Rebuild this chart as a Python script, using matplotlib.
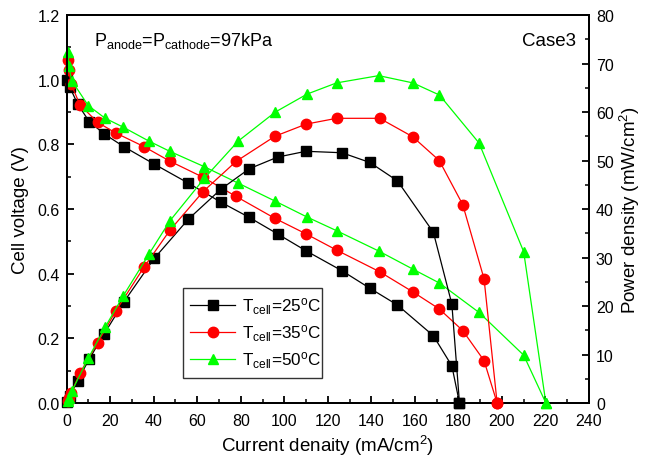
import matplotlib
matplotlib.use("Agg")
import matplotlib.pyplot as plt
from matplotlib.ticker import MultipleLocator

plt.rcParams['font.family'] = ['Liberation Sans', 'DejaVu Sans']
plt.rcParams['mathtext.fontset'] = 'custom'
plt.rcParams['mathtext.rm'] = 'Liberation Sans'
plt.rcParams['mathtext.it'] = 'Liberation Sans'

# Polarization data: current density (mA/cm2), cell voltage (V), power density (mW/cm2)
i_25 = [0.3, 1.5, 5.0, 10.4, 17.3, 26.2, 40.2, 55.9, 70.9, 83.9, 96.9, 109.9, 126.5, 139.3, 152.0, 168.5, 177.0, 180.5]
v_25 = [1.00, 0.976, 0.925, 0.870, 0.832, 0.793, 0.739, 0.680, 0.621, 0.574, 0.523, 0.471, 0.409, 0.355, 0.303, 0.208, 0.115, 0.0]
p_25 = [0.3, 1.5, 4.6, 9.1, 14.3, 20.8, 29.8, 37.9, 44.1, 48.3, 50.7, 51.9, 51.6, 49.6, 45.8, 35.2, 20.4, 0.0]

i_35 = [0.5, 1.0, 2.0, 6.1, 14.2, 22.6, 35.5, 47.4, 62.7, 77.8, 95.7, 110.0, 124.0, 143.8, 159.0, 171.2, 182.0, 191.8, 197.8]
v_35 = [1.06, 1.03, 0.987, 0.922, 0.868, 0.835, 0.793, 0.748, 0.698, 0.639, 0.571, 0.523, 0.473, 0.406, 0.344, 0.291, 0.224, 0.131, 0.0]
p_35 = [0.5, 1.0, 2.0, 6.2, 12.4, 19.0, 28.0, 35.6, 43.6, 49.8, 55.0, 57.5, 58.7, 58.7, 54.9, 50.0, 40.9, 25.6, 0.0]

i_50 = [0.5, 1.0, 2.3, 9.9, 17.6, 26.0, 37.8, 47.5, 63.2, 78.8, 95.9, 110.5, 124.0, 143.4, 159.1, 171.3, 189.5, 210.0, 220.2]
v_50 = [1.085, 1.043, 0.997, 0.920, 0.881, 0.853, 0.810, 0.778, 0.731, 0.680, 0.624, 0.575, 0.533, 0.470, 0.414, 0.371, 0.280, 0.148, 0.0]
p_50 = [0.5, 1.0, 2.4, 9.2, 15.6, 22.1, 30.7, 37.6, 46.3, 54.0, 60.0, 63.7, 66.0, 67.5, 66.0, 63.5, 53.6, 31.2, 0.0]

labels = [r'T$_{\rm cell}$=25$^{\rm o}$C', r'T$_{\rm cell}$=35$^{\rm o}$C', r'T$_{\rm cell}$=50$^{\rm o}$C']

fig = plt.figure(figsize=(6.45, 4.64), dpi=100)
ax = fig.add_axes([0.1034, 0.1293, 0.8097, 0.8362])
ax2 = ax.twinx()

styles = [
    dict(color='black', marker='s', ms=6.5),
    dict(color='#ff0000', marker='o', ms=7.5),
    dict(color='#00ff00', marker='^', ms=7.5),
]
series = [(i_25, v_25, p_25), (i_35, v_35, p_35), (i_50, v_50, p_50)]

handles = []
for (cur, volt, powr), st, lab in zip(series, styles, labels):
    h, = ax.plot(cur, volt, color=st['color'], marker=st['marker'], ms=st['ms'],
                 mfc=st['color'], mec=st['color'], lw=0.9, label=lab, clip_on=False, zorder=3)
    ax2.plot(cur, powr, color=st['color'], marker=st['marker'], ms=st['ms'],
             mfc=st['color'], mec=st['color'], lw=0.9, clip_on=False, zorder=3)
    handles.append(h)

ax.set_xlim(0, 240)
ax.set_ylim(0, 1.2)
ax2.set_ylim(0, 80)

ax.xaxis.set_major_locator(MultipleLocator(20))
ax.xaxis.set_minor_locator(MultipleLocator(10))
ax.yaxis.set_major_locator(MultipleLocator(0.2))
ax.yaxis.set_minor_locator(MultipleLocator(0.1))
ax2.yaxis.set_major_locator(MultipleLocator(10))
ax2.yaxis.set_minor_locator(MultipleLocator(5))

ax.yaxis.set_major_formatter(plt.FuncFormatter(lambda v, p: f"{v:.1f}"))

for a in (ax, ax2):
    for s in a.spines.values():
        s.set_linewidth(1.4)
ax.tick_params(axis='both', which='major', direction='in', length=5, width=1.3, labelsize=11.5, pad=5)
ax.tick_params(axis='x', which='major', pad=7)
ax.tick_params(axis='both', which='minor', direction='in', length=3, width=1.1)
ax.tick_params(top=False, which='both')
ax2.tick_params(axis='y', which='major', direction='in', length=5, width=1.3, labelsize=11.5, pad=5)
ax2.tick_params(axis='y', which='minor', direction='in', length=3, width=1.1)

ax.set_xlabel(r'Current denaity (mA/cm$^2$)', fontsize=13.5, labelpad=4)
ax.set_ylabel('Cell voltage (V)', fontsize=13.5, labelpad=6)
ax2.set_ylabel(r'Power density (mW/cm$^2$)', fontsize=13.5, labelpad=3)

ax.text(0.052, 0.935, r'P$_{\rm anode}$=P$_{\rm cathode}$=97kPa', transform=ax.transAxes,
        fontsize=13, ha='left', va='center')
ax.text(0.975, 0.935, 'Case3', transform=ax.transAxes, fontsize=13.5, ha='right', va='center')

leg = ax2.legend(handles, labels, loc='lower left', bbox_to_anchor=(0.222, 0.064, 0.266, 0.241),
                 mode='expand', fontsize=12.3, frameon=True, fancybox=False, edgecolor='black',
                 handlelength=2.6, handletextpad=0.4, borderpad=0.45, labelspacing=0.38, borderaxespad=0)
leg.get_frame().set_linewidth(1.0)

fig.savefig('out.png', dpi=100)
